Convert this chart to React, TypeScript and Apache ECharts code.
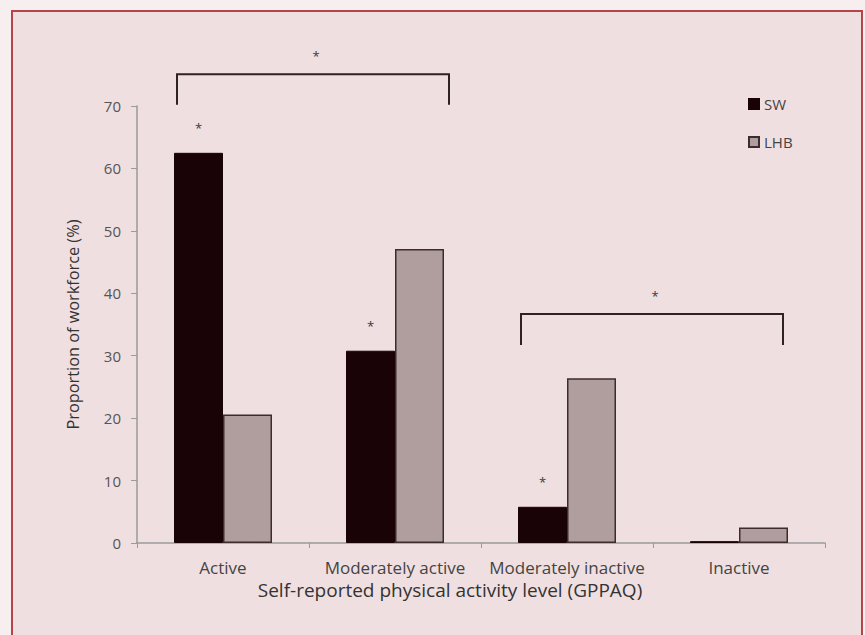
import React, { useEffect, useRef } from "react";
import * as echarts from "echarts";

const categories = ["Active", "Moderately active", "Moderately inactive", "Inactive"];
const swValues = [62.5, 30.8, 5.8, 0.3];
const lhbValues = [20.6, 47.1, 26.4, 2.5];
const swSignificant = [true, true, true, false];
// [fromCategory, toCategory, bracketTop, legBottom] in axis units
const brackets = [
  [0, 1, 75.1, 70.2],
  [2, 3, 36.7, 31.7],
];
const yTicks = { min: 0, max: 70, interval: 10 };

const FONT = "Open Sans";
const bracketRightOffset = [54, 44];

export default function App() {
  const ref = useRef<HTMLDivElement>(null);
  useEffect(() => {
    if (!ref.current) return;
    const chart = echarts.init(ref.current, null, { renderer: "svg" });
    chart.setOption({
      animation: false,
      backgroundColor: "#f7efef",
      textStyle: { fontFamily: FONT },
      graphic: [
        {
          type: "rect",
          z: -10,
          silent: true,
          shape: { x: 12, y: 11, width: 850, height: 660 },
          style: { fill: "#f0dfe0", stroke: "#b5454a", lineWidth: 2 },
        },
      ],
      grid: { left: 137, right: 40, top: 106, bottom: 92 },
      legend: {
        data: ["SW", "LHB"],
        orient: "vertical",
        left: 748,
        top: 96,
        padding: 0,
        itemGap: 22,
        itemWidth: 10,
        itemHeight: 10,
        icon: "rect",
        textStyle: { fontSize: 15, lineHeight: 16, color: "#444", fontFamily: FONT },
      },
      xAxis: {
        type: "category",
        data: categories,
        name: "Self-reported physical activity level (GPPAQ)",
        nameLocation: "middle",
        nameGap: 36,
        nameTextStyle: { fontSize: 19, color: "#333", fontFamily: FONT, padding: [0, 62, 0, 0] },
        axisLine: { lineStyle: { color: "#9a9a9a", width: 1.5 } },
        axisTick: { show: true, length: 5, lineStyle: { color: "#9a9a9a" } },
        axisLabel: { margin: 16, fontSize: 17, color: "#444", fontFamily: FONT, interval: 0 },
      },
      yAxis: {
        type: "value",
        min: yTicks.min,
        max: yTicks.max,
        interval: yTicks.interval,
        name: "Proportion of workforce (%)",
        nameLocation: "middle",
        nameGap: 56,
        nameTextStyle: { fontSize: 16.3, color: "#333", fontFamily: FONT },
        splitLine: { show: false },
        axisLine: { show: true, lineStyle: { color: "#9a9a9a", width: 1.5 } },
        axisTick: { show: true, length: 6, lineStyle: { color: "#9a9a9a" } },
        axisLabel: { margin: 16, fontSize: 15, color: "#555", fontFamily: FONT },
      },
      series: [
        {
          name: "SW",
          type: "bar",
          barWidth: 49,
          barGap: "0%",
          itemStyle: { color: "#1a0306", borderColor: "#1a0306", borderWidth: 1 },
          data: swValues.map((v, i) => ({
            value: v,
            label: swSignificant[i]
              ? {
                  show: true,
                  formatter: "*",
                  position: "top",
                  distance: 18,
                  fontSize: 13,
                  color: "#3a3a3a",
                  fontFamily: FONT,
                }
              : { show: false },
          })),
        },
        {
          name: "LHB",
          type: "bar",
          barWidth: 49,
          barGap: "0%",
          itemStyle: { color: "#b09e9e", borderColor: "#3d2c2d", borderWidth: 1.5 },
          data: lhbValues,
        },
        {
          name: "brackets",
          type: "custom",
          silent: true,
          clip: false,
          z: 5,
          encode: { x: [0, 1], y: [2, 3] },
          data: brackets,
          renderItem: (params: any, api: any) => {
            const a = api.coord([api.value(0), api.value(2)]);
            const b = api.coord([api.value(1), api.value(3)]);
            const xl = a[0] - 46;
            const xr = b[0] + bracketRightOffset[params.dataIndex];
            const yt = a[1];
            const yb = b[1];
            return {
              type: "group",
              children: [
                {
                  type: "polyline",
                  shape: { points: [[xl, yb], [xl, yt], [xr, yt], [xr, yb]] },
                  style: { stroke: "#2e2224", lineWidth: 2, fill: null },
                },
                {
                  type: "text",
                  style: {
                    text: "*",
                    x: (xl + xr) / 2 + 3,
                    y: yt - 18,
                    align: "center",
                    verticalAlign: "middle",
                    fontSize: 13,
                    fill: "#3a3a3a",
                    fontFamily: FONT,
                  },
                },
              ],
            };
          },
        },
      ],
    });
    return () => chart.dispose();
  }, []);
  return (
    <div
      ref={ref}
      style={{ position: "fixed", left: 0, top: 0, width: 865, height: 635 }}
    />
  );
}
